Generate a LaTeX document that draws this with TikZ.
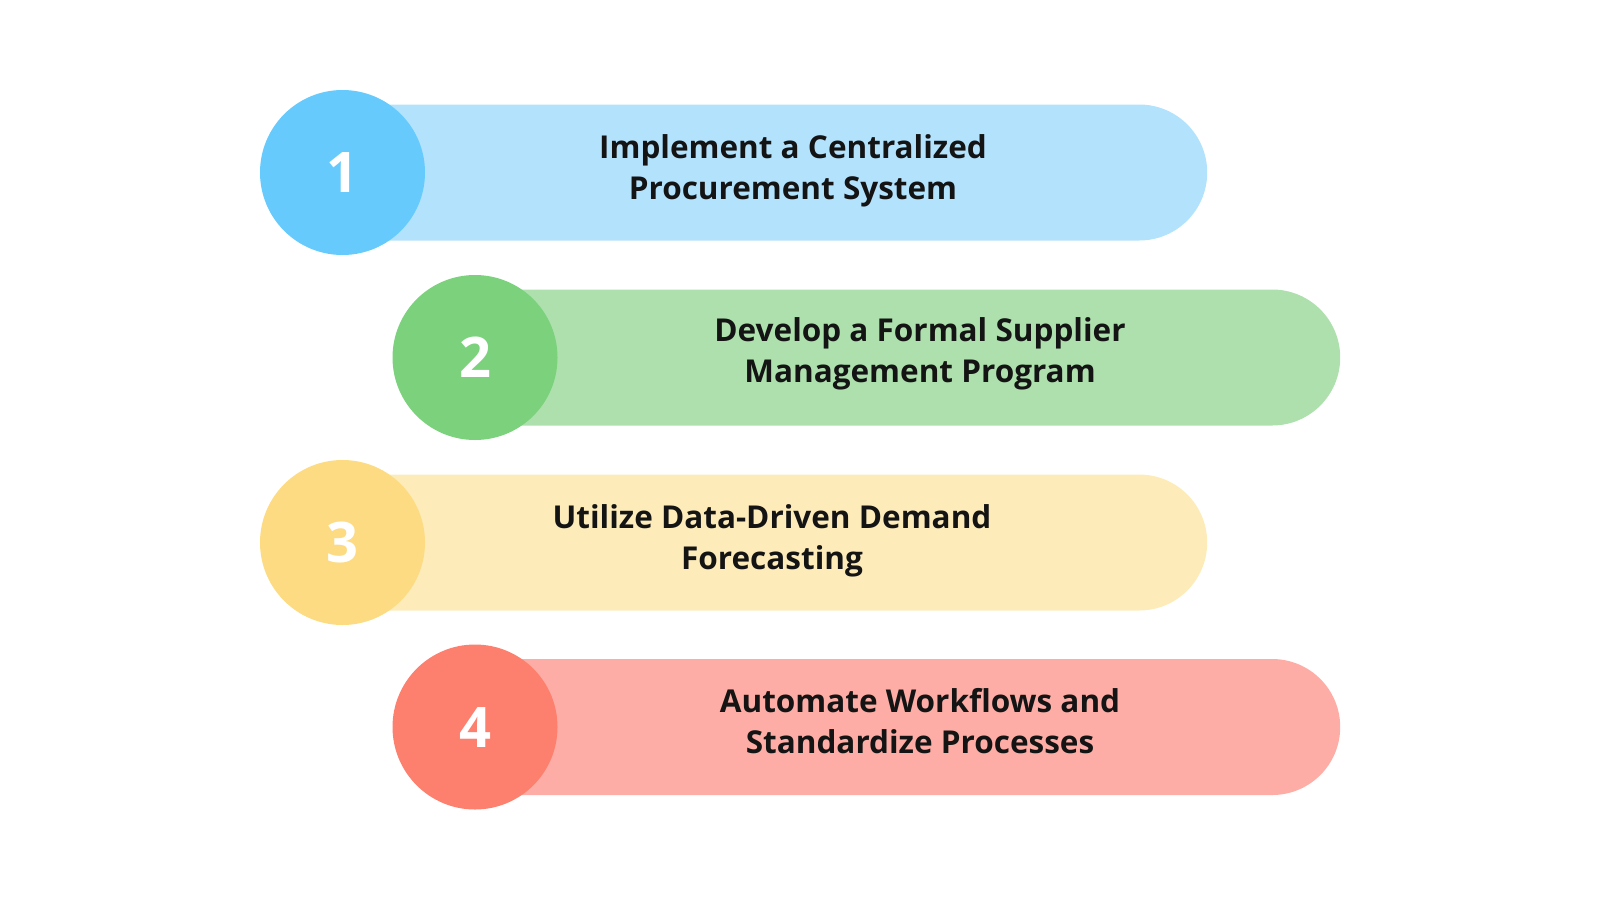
\documentclass[tikz,border=0pt]{standalone}
\usepackage{fontspec}
\setmainfont{Open Sans}
\usetikzlibrary{shapes.misc}

\definecolor{circA}{HTML}{66CAFD}
\definecolor{pillA}{HTML}{B3E2FD}
\definecolor{circB}{HTML}{7BD17C}
\definecolor{pillB}{HTML}{ADE0AD}
\definecolor{circC}{HTML}{FCDB83}
\definecolor{pillC}{HTML}{FDECBA}
\definecolor{circD}{HTML}{FD7F6E}
\definecolor{pillD}{HTML}{FDADA5}
\definecolor{ink}{HTML}{141414}

\tikzset{
	pill/.style={rounded rectangle, rounded rectangle left arc=none,
		minimum width=865pt, minimum height=136pt, inner sep=0pt, anchor=west},
	numcirc/.style={circle, minimum size=165pt, inner sep=0pt, text=white,
		font=\fontsize{56}{56}\selectfont\bfseries},
	steptext/.style={align=center, text=ink, font=\fontsize{31.5}{40.5}\selectfont\bfseries}
}

\begin{document}
\begin{tikzpicture}[x=1pt, y=-1pt]
		\useasboundingbox (0,0) rectangle (1600,900);
		% bars
		\node[pill, fill=pillA] (barA) at (342,172.5) {};
		\node[pill, fill=pillB] (barB) at (475,357.5) {};
		\node[pill, fill=pillC] (barC) at (342,542.5) {};
		\node[pill, fill=pillD] (barD) at (475,727) {};
		% numbers
		\node[numcirc, fill=circA] (numA) at (342.5,172.5) {1};
		\node[numcirc, fill=circB] (numB) at (475,357.5) {2};
		\node[numcirc, fill=circC] (numC) at (342.5,542.5) {3};
		\node[numcirc, fill=circD] (numD) at (475,727) {4};
		% labels
		\node[steptext] (txtA) at (793,171) {Implement a Centralized\\Procurement System};
		\node[steptext] (txtB) at (920,354) {Develop a Formal Supplier\\Management Program};
		\node[steptext] (txtC) at (772,541) {Utilize Data-Driven Demand\\Forecasting};
		\node[steptext] (txtD) at (920,721) {Automate Workflows and\\Standardize Processes};
	\end{tikzpicture}
\end{document}
